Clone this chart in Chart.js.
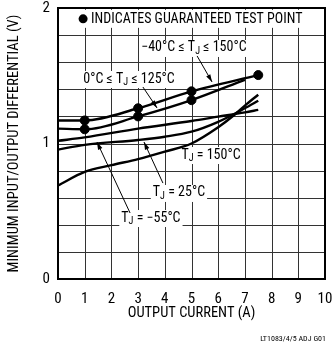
<!DOCTYPE html>
<html>
<head>
<meta charset="utf-8">
<script src="https://cdn.jsdelivr.net/npm/chart.js@4.4.0/dist/chart.umd.min.js"></script>
<style>
  html, body { margin: 0; padding: 0; background: #fff; }
  #wrap { width: 335px; height: 343px; }
</style>
</head>
<body>
<div id="wrap"><canvas id="dropoutChart" width="335" height="343"></canvas></div>
<script>
// output current (A) / minimum input-output differential (V)
const guaranteedWideX = [0, 1, 3, 5, 7.5];          // -40°C ≤ TJ ≤ 150°C
const guaranteedWideY = [1.17, 1.17, 1.26, 1.385, 1.505];
const guaranteedNarrowX = [0, 1, 3, 5, 7];          // 0°C ≤ TJ ≤ 125°C
const guaranteedNarrowY = [1.11, 1.105, 1.20, 1.32, 1.47];

const tMinus55X = [0, 1, 3, 5, 6, 7, 7.5];
const tMinus55Y = [1.02, 1.045, 1.11, 1.166, 1.198, 1.23, 1.248];
const t25X = [0, 1, 3, 4, 5, 6, 7, 7.5];
const t25Y = [0.955, 0.99, 1.026, 1.05, 1.087, 1.16, 1.26, 1.315];
const t150X = [0, 1, 2, 3, 4, 5, 6, 6.6, 7, 7.5];
const t150Y = [0.69, 0.79, 0.84, 0.885, 0.94, 1.0, 1.12, 1.21, 1.28, 1.36];

// guaranteed test points (the black dots)
const testPointX = [1, 3, 5, 7.5, 1, 3, 5];
const testPointY = [1.17, 1.26, 1.385, 1.505, 1.105, 1.20, 1.32];

const xTicks = [0, 1, 2, 3, 4, 5, 6, 7, 8, 9, 10];
const yLabelTicks = [0, 1, 2];

const FONT = "'Liberation Sans Narrow', 'Arial Narrow', 'Roboto Condensed', 'Liberation Sans', sans-serif";

const toPoints = (xs, ys) => xs.map((x, i) => ({ x: x, y: ys[i] }));

const curve = (xs, ys) => ({
    data: toPoints(xs, ys),
    borderColor: '#000',
    borderWidth: 2.4,
    pointRadius: 0,
    fill: false,
    cubicInterpolationMode: 'monotone',
});

// text labels (anchor in data units), parts: [text, isSubscript]
const labels = [
    { x: 5.09, y: 1.705, parts: [['\u221240\u00b0C \u2264 T', 0], ['J', 1], [' \u2264 150\u00b0C', 0]] },
    { x: 2.66, y: 1.476, parts: [['0\u00b0C \u2264 T', 0], ['J', 1], [' \u2264 125\u00b0C', 0]] },
    { x: 5.73, y: 0.915, parts: [['T', 0], ['J', 1], [' = 150\u00b0C', 0]] },
    { x: 4.53, y: 0.635, parts: [['T', 0], ['J', 1], [' = 25\u00b0C', 0]] },
    { x: 3.48, y: 0.45, parts: [['T', 0], ['J', 1], [' = \u221255\u00b0C', 0]] },
];

// arrows: tail -> head, in data units
const arrows = [
    [5.21, 1.646, 5.77, 1.454],
    [3.18, 1.417, 3.71, 1.262],
    [2.70, 0.487, 1.46, 1.011],
    [3.93, 0.708, 3.22, 1.011],
];

const measureParts = (ctx, parts, size) => {
    let w = 0;
    parts.forEach(p => {
        ctx.font = (p[1] ? size * 0.72 : size) + 'px ' + FONT;
        w += ctx.measureText(p[0]).width;
    });
    return w;
};

const drawParts = (ctx, parts, left, cy, size) => {
    let x = left;
    parts.forEach(p => {
        ctx.font = (p[1] ? size * 0.72 : size) + 'px ' + FONT;
        ctx.fillText(p[0], x, p[1] ? cy + size * 0.28 : cy);
        x += ctx.measureText(p[0]).width;
    });
};

// grid drawn by hand from the scale ticks, so it always sits under the curves
const gridLines = {
    id: 'gridLines',
    beforeDatasetsDraw(chart) {
        const ctx = chart.ctx;
        const area = chart.chartArea;
        ctx.save();
        ctx.strokeStyle = '#333';
        ctx.lineWidth = 1;
        chart.scales.x.ticks.forEach(t => {
            const px = Math.round(chart.scales.x.getPixelForValue(t.value)) + 0.5;
            ctx.beginPath();
            ctx.moveTo(px, area.top);
            ctx.lineTo(px, area.bottom);
            ctx.stroke();
        });
        chart.scales.y.ticks.forEach(t => {
            const py = Math.round(chart.scales.y.getPixelForValue(t.value)) + 0.5;
            ctx.beginPath();
            ctx.moveTo(area.left, py);
            ctx.lineTo(area.right, py);
            ctx.stroke();
        });
        ctx.restore();
    }
};

const annotations = {
    id: 'annotations',
    beforeDatasetsDraw(chart) {
        const ctx = chart.ctx;
        const xs = chart.scales.x, ys = chart.scales.y;
        ctx.save();
        ctx.textBaseline = 'middle';
        ctx.textAlign = 'left';

        // legend note with white box
        const noteSize = 14;
        ctx.font = noteSize + 'px ' + FONT;
        const noteText = 'INDICATES GUARANTEED TEST POINT';
        const nx = xs.getPixelForValue(0.94), ny = ys.getPixelForValue(1.92);
        const nw = ctx.measureText(noteText).width;
        ctx.fillStyle = '#fff';
        ctx.fillRect(nx - 8, ny - 9, nw + 22, 18);
        ctx.fillStyle = '#000';
        ctx.beginPath();
        ctx.arc(nx, ny, 4.5, 0, Math.PI * 2);
        ctx.fill();
        ctx.fillText(noteText, nx + 8, ny + 0.5);

        // curve labels
        const size = 14;
        labels.forEach(l => {
            const w = measureParts(ctx, l.parts, size);
            const cx = xs.getPixelForValue(l.x), cy = ys.getPixelForValue(l.y);
            ctx.fillStyle = '#fff';
            ctx.fillRect(cx - w / 2 - 2, cy - 8, w + 4, 17);
            ctx.fillStyle = '#000';
            drawParts(ctx, l.parts, cx - w / 2, cy, size);
        });
        ctx.restore();
    },
    afterDatasetsDraw(chart) {
        const ctx = chart.ctx;
        const xs = chart.scales.x, ys = chart.scales.y;
        ctx.save();
        ctx.strokeStyle = '#000';
        ctx.fillStyle = '#000';
        ctx.lineWidth = 1;
        arrows.forEach(a => {
            const x1 = xs.getPixelForValue(a[0]), y1 = ys.getPixelForValue(a[1]);
            const x2 = xs.getPixelForValue(a[2]), y2 = ys.getPixelForValue(a[3]);
            const ang = Math.atan2(y2 - y1, x2 - x1);
            ctx.beginPath();
            ctx.moveTo(x1, y1);
            ctx.lineTo(x2, y2);
            ctx.stroke();
            ctx.beginPath();
            ctx.moveTo(x2, y2);
            ctx.lineTo(x2 - 8 * Math.cos(ang - 0.3), y2 - 8 * Math.sin(ang - 0.3));
            ctx.lineTo(x2 - 8 * Math.cos(ang + 0.3), y2 - 8 * Math.sin(ang + 0.3));
            ctx.closePath();
            ctx.fill();
        });

        // plot frame
        const area = chart.chartArea;
        ctx.lineWidth = 2;
        ctx.strokeRect(area.left, area.top, area.right - area.left, area.bottom - area.top);

        // axis titles and figure code
        ctx.textAlign = 'center';
        ctx.textBaseline = 'middle';
        ctx.font = '14.5px ' + FONT;
        ctx.fillText('OUTPUT CURRENT (A)', (area.left + area.right) / 2, 313);
        ctx.save();
        ctx.translate(14, (area.top + area.bottom) / 2);
        ctx.rotate(-Math.PI / 2);
        ctx.fillText('MINIMUM INPUT/OUTPUT DIFFERENTIAL (V)', 0, 0);
        ctx.restore();
        ctx.textAlign = 'right';
        ctx.font = '8px ' + FONT;
        ctx.fillText('LT1083/4/5 ADJ G01', 326, 339);
        ctx.restore();
    }
};

document.addEventListener('DOMContentLoaded', () => {
    const chartCtx = document.getElementById('dropoutChart');

    new Chart(chartCtx, {
        type: 'line',
        data: {
            datasets: [
                curve(guaranteedWideX, guaranteedWideY),
                curve(guaranteedNarrowX, guaranteedNarrowY),
                curve(tMinus55X, tMinus55Y),
                curve(t25X, t25Y),
                curve(t150X, t150Y),
                {
                    type: 'scatter',
                    data: toPoints(testPointX, testPointY),
                    backgroundColor: '#000',
                    borderColor: '#000',
                    pointRadius: 4.5,
                    showLine: false,
                }
            ]
        },
        options: {
            responsive: false,
            animation: false,
            devicePixelRatio: 1,
            layout: { padding: { top: 8, right: 10, left: 0, bottom: 0 } },
            plugins: {
                legend: { display: false },
                tooltip: { enabled: false }
            },
            scales: {
                x: {
                    type: 'linear',
                    min: 0,
                    max: 10,
                    afterFit: s => { s.height = 64; s.paddingLeft = 0; s.paddingRight = 0; },
                    afterBuildTicks: s => { s.ticks = xTicks.map(v => ({ value: v })); },
                    ticks: {
                        color: '#000',
                        padding: 11,
                        font: { family: FONT, size: 15 }
                    },
                    grid: { display: false, drawTicks: false },
                    border: { display: false }
                },
                y: {
                    type: 'linear',
                    min: 0,
                    max: 2,
                    afterFit: s => { s.width = 58; s.paddingTop = 0; s.paddingBottom = 0; },
                    ticks: {
                        stepSize: 0.2,
                        color: '#000',
                        padding: 8,
                        font: { family: FONT, size: 15 },
                        callback: v => {
                            const r = Math.round(v);
                            return (Math.abs(v - r) < 1e-6 && yLabelTicks.includes(r)) ? String(r) : '';
                        }
                    },
                    grid: { display: false, drawTicks: false },
                    border: { display: false }
                }
            }
        },
        plugins: [gridLines, annotations]
    });
});
</script>
</body>
</html>
